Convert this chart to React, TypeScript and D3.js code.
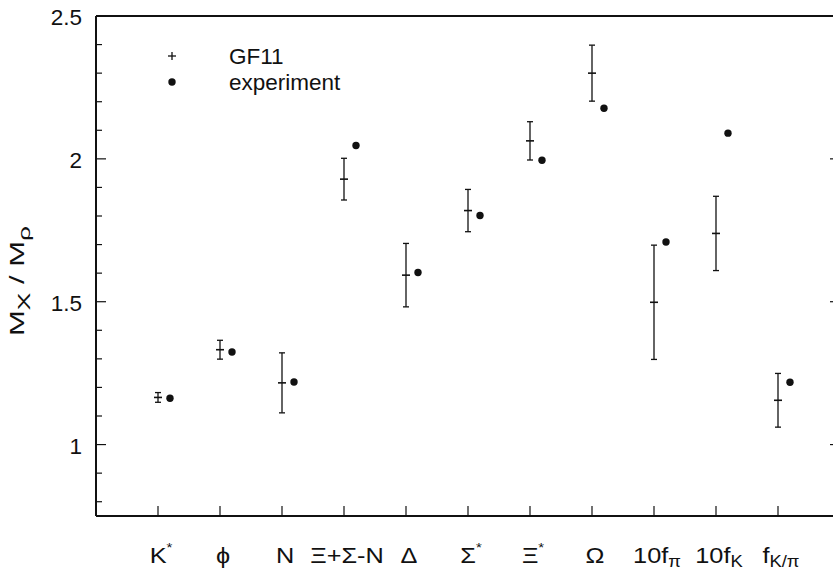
import React from 'react'
import * as d3 from 'd3'

// particle / quantity labels along the bottom
const labelBase = ['K', 'ϕ', 'N', 'Ξ+Σ-N', 'Δ', 'Σ', 'Ξ', 'Ω', '10f', '10f', 'f']
const labelSup = ['*', '', '', '', '', '*', '*', '', '', '', '']
const labelSub = ['', '', '', '', '', '', '', '', 'π', 'K', 'K/π']

// GF11 lattice values with errors, and experiment
const gf11 = [1.165, 1.332, 1.216, 1.929, 1.593, 1.819, 2.063, 2.3, 1.498, 1.739, 1.155]
const gf11Err = [0.017, 0.033, 0.105, 0.073, 0.111, 0.074, 0.067, 0.098, 0.2, 0.13, 0.094]
const experiment = [1.162, 1.324, 1.219, 2.047, 1.602, 1.802, 1.995, 2.177, 1.709, 2.09, 1.218]

const yMajor = [1, 1.5, 2, 2.5]
const yMinor = [0.8, 0.9, 1.1, 1.2, 1.3, 1.4, 1.6, 1.7, 1.8, 1.9, 2.1, 2.2, 2.3, 2.4]

const W = 833
const H = 571
const font = '"Liberation Sans", Arial, Helvetica, sans-serif'

export default function App() {
  const x = d3.scaleLinear().domain([0, 12]).range([96, 840])
  const y = d3.scaleLinear().domain([0.75, 2.5]).range([516, 16])
  const left = x(0), right = x(12), top = y(2.5), bottom = y(0.75)
  const ink = '#111'

  return (
    <svg width={W} height={H} style={{ position: 'absolute', left: 0, top: 0 }}
      fontFamily={font}>
      <rect width={W} height={H} fill='white' />

      {/* frame */}
      <line x1={left} x2={right} y1={top} y2={top} stroke={ink} strokeWidth={2} />
      <line x1={left} x2={right} y1={bottom} y2={bottom} stroke={ink} strokeWidth={2} />
      <line x1={left} x2={left} y1={top} y2={bottom} stroke={ink} strokeWidth={2} />
      <line x1={right} x2={right} y1={top} y2={bottom} stroke={ink} strokeWidth={2} />

      {/* y ticks */}
      {yMajor.map(v => (
        <g key={'M' + v}>
          <line x1={left} x2={left + 10} y1={y(v)} y2={y(v)} stroke={ink} strokeWidth={1.2} />
          <line x1={right} x2={right - 10} y1={y(v)} y2={y(v)} stroke={ink} strokeWidth={1.2} />
          <text x={82} y={y(v) + 1} dy='0.36em' textAnchor='end' fontSize={22.5} fill={ink}>{v}</text>
        </g>
      ))}
      {yMinor.map(v => (
        <line key={'m' + v} x1={left} x2={left + 6} y1={y(v)} y2={y(v)} stroke={ink} strokeWidth={1.2} />
      ))}

      {/* x ticks and labels */}
      {labelBase.map((b, i) => (
        <g key={'x' + i}>
          <line x1={x(i + 1)} x2={x(i + 1)} y1={bottom} y2={bottom - 10} stroke={ink} strokeWidth={1.2} />
          <text transform={`translate(${x(i + 1) + 3},563) scale(1.15,1)`} textAnchor='middle'
            fontSize={22} fill={ink}>
            {b}
            {labelSup[i] && <tspan dy={-11} fontSize={13}>{labelSup[i]}</tspan>}
            {labelSub[i] && <tspan dy={4} fontSize={16}>{labelSub[i]}</tspan>}
          </text>
        </g>
      ))}

      {/* y axis title */}
      <text transform='translate(24,281) rotate(-90) scale(1.55,1)' textAnchor='middle' fontSize={20} fill={ink}>
        M<tspan dy={6} fontSize={17}>X</tspan><tspan dy={-6}> / M</tspan><tspan dy={6} fontSize={17}>ρ</tspan>
      </text>

      {/* GF11 error bars */}
      {gf11.map((v, i) => {
        const cx = x(i + 1)
        const lo = y(v - gf11Err[i]), hi = y(v + gf11Err[i])
        return (
          <g key={'g' + i} stroke={ink} strokeWidth={1.3}>
            <line x1={cx} x2={cx} y1={lo} y2={hi} />
            <line x1={cx - 3} x2={cx + 3} y1={lo} y2={lo} />
            <line x1={cx - 3} x2={cx + 3} y1={hi} y2={hi} />
            <line x1={cx - 4} x2={cx + 4} y1={y(v)} y2={y(v)} strokeWidth={1.6} />
          </g>
        )
      })}

      {/* experiment */}
      {experiment.map((v, i) => (
        <circle key={'e' + i} cx={x(i + 1) + 12} cy={y(v)} r={3.7} fill={ink} />
      ))}

      {/* legend */}
      <g stroke={ink} strokeWidth={1.3}>
        <line x1={168} x2={176} y1={56} y2={56} />
        <line x1={172} x2={172} y1={52} y2={60} />
      </g>
      <circle cx={172} cy={82} r={3.7} fill={ink} />
      <text x={229} y={56} dy='0.36em' fontSize={22.5} fill={ink}>GF11</text>
      <text x={229} y={82} dy='0.36em' fontSize={22.5} fill={ink}>experiment</text>
    </svg>
  )
}
